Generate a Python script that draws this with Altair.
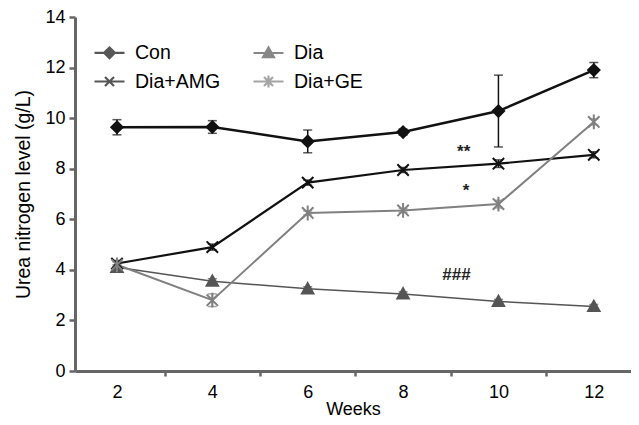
import altair as alt
import pandas as pd

weeks = [2, 4, 6, 8, 10, 12]
series_names = ["Con", "Dia", "Dia+AMG", "Dia+GE"]
con = [9.64, 9.65, 9.08, 9.45, 10.28, 11.9]
con_err = [0.3, 0.25, 0.45, 0.12, 1.42, 0.3]
dia = [4.1, 3.55, 3.25, 3.05, 2.75, 2.55]
dia_err = [0.1, 0.1, 0.08, 0.08, 0.08, 0.08]
amg = [4.25, 4.9, 7.45, 7.95, 8.2, 8.55]
amg_err = [0.12, 0.12, 0.1, 0.1, 0.15, 0.12]
ge = [4.2, 2.8, 6.25, 6.35, 6.6, 9.85]
ge_err = [0.12, 0.25, 0.08, 0.08, 0.15, 0.12]

colors = ["#111111", "#555555", "#111111", "#808080"]
fills = ["#111111", "#555555", "transparent", "transparent"]
widths = [2.5, 1.5, 2.2, 2.0]
marker_paths = [
    "M0,-1L1,0L0,1L-1,0Z",
    "M0,-1L1,0.8L-1,0.8Z",
    "M-1,-1L1,1M-1,1L1,-1",
    "M-1,-1L1,1M-1,1L1,-1M0,-1.3L0,1.3",
]
legend_paths = [
    "M-1,0H1M0,-0.36L0.36,0L0,0.36L-0.36,0Z",
    "M-1,0H1M0,-0.36L0.36,0.28L-0.36,0.28Z",
    "M-1,0H1M-0.3,-0.3L0.3,0.3M-0.3,0.3L0.3,-0.3",
    "M-1,0H1M-0.3,-0.3L0.3,0.3M-0.3,0.3L0.3,-0.3M0,-0.4L0,0.4",
]

ann_text = ["**", "*", "###"]
ann_x = [9.27, 9.32, 9.12]
ann_y = [8.65, 7.1, 3.8]

rows = []
for i, (name, vals, errs) in enumerate(zip(series_names, [con, dia, amg, ge], [con_err, dia_err, amg_err, ge_err])):
    for w, v, e in zip(weeks, vals, errs):
        rows.append({"series": name, "week": w, "value": v, "lo": v - e, "hi": v + e,
                     "color": colors[i], "fill": fills[i], "shape": marker_paths[i],
                     "sw": widths[i], "order": i})
df = pd.DataFrame(rows)
ann = pd.DataFrame({"text": ann_text, "x": ann_x, "y": ann_y})

FONT = "Liberation Sans"
xscale = alt.Scale(domain=[1.12, 12.78], nice=False, zero=False)
yscale = alt.Scale(domain=[0, 14], nice=False)

xaxis = alt.Axis(values=list(range(2, 13)), title="Weeks",
                 labelExpr="datum.value % 2 == 0 ? datum.label : ''",
                 tickOpacity={"condition": {"test": "datum.value % 2 == 0", "value": 0}, "value": 1},
                 tickSize=5, tickWidth=2.5, tickColor="#666666",
                 domainColor="#666666", domainWidth=3, labelPadding=7,
                 labelFontSize=18, labelColor="black", labelFont=FONT,
                 titleFontSize=18, titleFont=FONT, titleFontWeight="normal",
                 titlePadding=-1, titleColor="black", grid=False, labelFlush=False)
yaxis = alt.Axis(values=list(range(0, 15, 2)), title="Urea nitrogen level (g/L)",
                 tickSize=6, tickWidth=2.5, tickColor="#666666",
                 domainColor="#666666", domainWidth=3, labelPadding=4,
                 labelFontSize=18, labelColor="black", labelFont=FONT,
                 titleFontSize=19.5, titleFont=FONT, titleFontWeight="normal",
                 titlePadding=11, titleColor="black", grid=False)

base = alt.Chart(df)

lines = base.mark_line().encode(
    x=alt.X("week:Q", scale=xscale, axis=xaxis),
    y=alt.Y("value:Q", scale=yscale, axis=yaxis),
    detail="series:N",
    color=alt.Color("color:N", scale=None),
    strokeWidth=alt.StrokeWidth("sw:Q", scale=None),
    order="week:Q",
)

err = base.mark_rule(strokeWidth=1.5).encode(
    x="week:Q", y="lo:Q", y2="hi:Q",
    color=alt.Color("color:N", scale=None),
)
cap_lo = base.mark_tick(orient="horizontal", size=9, thickness=1.5).encode(
    x="week:Q", y="lo:Q", color=alt.Color("color:N", scale=None))
cap_hi = base.mark_tick(orient="horizontal", size=9, thickness=1.5).encode(
    x="week:Q", y="hi:Q", color=alt.Color("color:N", scale=None))

markers = base.mark_point(size=130, strokeWidth=2, opacity=1).encode(
    x="week:Q", y="value:Q",
    shape=alt.Shape("shape:N", scale=None),
    stroke=alt.Stroke("color:N", scale=None),
    fill=alt.Fill("fill:N", scale=None),
)

legend_layer = base.mark_point(opacity=0, strokeWidth=2).encode(
    x="week:Q", y="value:Q",
    color=alt.Color("series:N", scale=alt.Scale(domain=series_names, range=colors),
                    legend=alt.Legend(title=None, orient="none", legendX=18, legendY=19,
                                      columns=2, columnPadding=28, rowPadding=2,
                                      symbolSize=900, symbolStrokeWidth=2.2, symbolOpacity=1,
                                      labelFontSize=19.5, labelFont=FONT, labelColor="black",
                                      labelOffset=9, direction="horizontal")),
    fill=alt.Fill("series:N", scale=alt.Scale(domain=series_names, range=fills), legend=None),
    shape=alt.Shape("series:N", scale=alt.Scale(domain=series_names, range=legend_paths)),
)

texts = alt.Chart(ann).mark_text(fontSize=17, font=FONT, fontWeight="bold", color="#222222").encode(
    x="x:Q", y="y:Q", text="text:N")

chart = alt.layer(lines, err, cap_lo, cap_hi, markers, legend_layer, texts).properties(
    width=556, height=354,
    autosize=alt.AutoSizeParams(type="none"),
    padding={"left": 67, "top": 9, "right": 0, "bottom": 48},
    background="white",
).configure_view(stroke=None)

chart.save("out.html", embed_options={"renderer": "svg", "actions": False})
